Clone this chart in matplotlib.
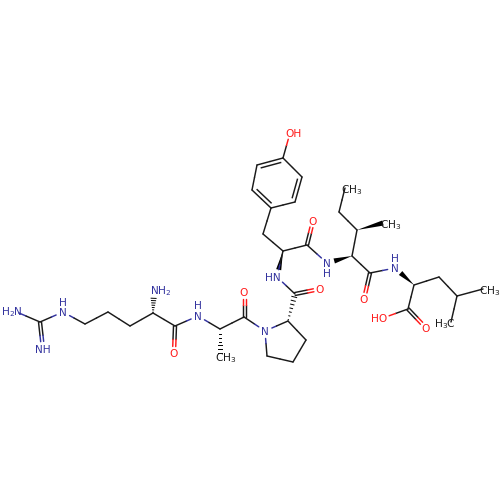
import matplotlib
matplotlib.use("Agg")
import matplotlib.pyplot as plt
import numpy as np
from matplotlib.patches import Polygon

plt.rcParams['font.family'] = ['DejaVu Sans']
NAVY = '#33339f'
RED = '#ff1a1a'
BLACK = '#1a1a1a'

# atoms: name -> (x, y, element)
atoms = {
 'N1': (12, 310, 'N'), 'C1': (40, 322, 'C'), 'N2': (43, 349, 'N'), 'N3': (63, 312, 'N'),
 'C2': (85, 324, 'C'), 'C3': (108, 312, 'C'), 'C4': (130, 326, 'C'), 'C5': (153, 313, 'C'),
 'N4': (154, 289, 'N'), 'C6': (175, 326, 'C'), 'O1': (174, 353, 'O'), 'N5': (198, 316, 'N'),
 'C7': (220, 329, 'C'), 'C8': (220, 356, 'C'), 'C9': (244, 317, 'C'), 'O2': (244, 292, 'O'),
 'N6': (265, 331, 'N'), 'C10': (288, 321, 'C'), 'C11': (306, 340, 'C'), 'C12': (293, 362, 'C'),
 'C13': (267, 356, 'C'), 'C14': (295, 294, 'C'), 'O3': (320, 289, 'O'), 'N7': (277, 277, 'N'),
 'C15': (283, 251, 'C'), 'C16': (263, 234, 'C'), 'C17': (271, 208, 'C'), 'C18': (252, 190, 'C'),
 'C19': (257, 165, 'C'), 'C20': (283, 158, 'C'), 'C21': (302, 177, 'C'), 'C22': (295, 202, 'C'),
 'O4': (290, 133, 'O'), 'C23': (307, 245, 'C'), 'O5': (313, 221, 'O'), 'N8': (327, 263, 'N'),
 'C24': (352, 256, 'C'), 'C25': (357, 230, 'C'), 'C26': (383, 223, 'C'), 'C27': (339, 212, 'C'),
 'C28': (345, 188, 'C'), 'C29': (370, 273, 'C'), 'O6': (364, 299, 'O'), 'N9': (395, 268, 'N'),
 'C30': (414, 285, 'C'), 'C31': (439, 277, 'C'), 'C32': (457, 296, 'C'), 'C33': (483, 289, 'C'),
 'C34': (451, 322, 'C'), 'C35': (408, 309, 'C'), 'O7': (383, 318, 'O'), 'O8': (426, 328, 'O'),
}
single_bonds = [('N1','C1'),('C1','N3'),('N3','C2'),('C2','C3'),('C3','C4'),('C4','C5'),
 ('C5','C6'),('C6','N5'),('N5','C7'),('C7','C9'),('C9','N6'),('N6','C10'),('C10','C11'),
 ('C11','C12'),('C12','C13'),('C13','N6'),('C14','N7'),('N7','C15') ,('C15','C16'),('C16','C17'),
 ('C18','C19'),('C20','C21'),('C22','C17'),('C20','O4'),('C15','C23'),('C23','N8'),
 ('C24','C25'),('C25','C27'),('C27','C28'),('C24','C29'),('C29','N9'),('C30','C31'),
 ('C31','C32'),('C32','C33'),('C32','C34'),('C30','C35'),('C35','O7')]
double_bonds = [('C1','N2',0),('C6','O1',0),('C9','O2',0),('C14','O3',0),('C23','O5',0),
 ('C29','O6',0),('C35','O8',0),('C17','C18',1),('C19','C20',1),('C21','C22',1)]
solid_wedges = [('C15','N7'),('C24','N8'),('C25','C26'),('C30','N9')]
hash_wedges = [('C5','N4'),('C7','C8'),('C10','C14')]
labels = [(12,310,'H$_2$N',NAVY),(43,349,'NH',NAVY),(63,312,'N',NAVY),(63,302,'H',NAVY),
 (161,289,'NH$_2$',NAVY),(174,353,'O',RED),(198,316,'N',NAVY),(198,305,'H',NAVY),
 (226,356,'CH$_3$',BLACK),(244,292,'O',RED),(265,331,'N',NAVY),(320,289,'O',RED),
 (273,277,'HN',NAVY),(293,133,'OH',RED),(313,221,'O',RED),(327,263,'N',NAVY),(327,273,'H',NAVY),
 (391,223,'CH$_3$',BLACK),(352,188,'CH$_3$',BLACK),(364,299,'O',RED),(395,268,'N',NAVY),
 (395,258,'H',NAVY),(490,289,'CH$_3$',BLACK),(445,322,'H$_3$C',BLACK),(379,318,'HO',RED),(426,328,'O',RED)]
col = {'C': BLACK, 'N': NAVY, 'O': RED}
gap = {'C': 0.0, 'N': 7.5, 'O': 6.5}

fig = plt.figure(figsize=(5, 5), dpi=100)
ax = fig.add_axes([0, 0, 1, 1])
ax.set_xlim(0, 500); ax.set_ylim(500, 0); ax.axis('off')

def seg(a, b, off=0.0):
    p, q = np.array(atoms[a][:2], float), np.array(atoms[b][:2], float)
    ea, eb = atoms[a][2], atoms[b][2]
    d = q - p; L = np.hypot(*d); u = d / L; n = np.array([-u[1], u[0]])
    s = p + u * gap[ea] + n * off; e = q - u * gap[eb] + n * off
    m = (p + q) / 2 + n * off
    return s, m, e, col[ea], col[eb], u, n

def bond(a, b, off=0.0, lw=1.05):
    s, m, e, c1, c2, _, _ = seg(a, b, off)
    ax.plot([s[0], m[0]], [s[1], m[1]], color=c1, lw=lw, solid_capstyle='round')
    ax.plot([m[0], e[0]], [m[1], e[1]], color=c2, lw=lw, solid_capstyle='round')

for a, b in single_bonds:
    bond(a, b)
for a, b, ring in double_bonds:
    if ring:
        bond(a, b)
        s, m, e, c1, c2, u, n = seg(a, b)
        cen = np.mean([atoms[k][:2] for k in ('C17','C18','C19','C20','C21','C22')], axis=0)
        sg = 1 if np.dot(cen - m, n) > 0 else -1
        s2 = s + u * 3.5 + n * 3.8 * sg; e2 = e - u * 3.5 + n * 3.8 * sg
        ax.plot([s2[0], e2[0]], [s2[1], e2[1]], color=BLACK, lw=1.05)
    else:
        bond(a, b, 1.5); bond(a, b, -1.5)
for a, b in solid_wedges:
    s, m, e, c1, c2, u, n = seg(a, b)
    ax.add_patch(Polygon([s, e + n * 2.6, e - n * 2.6], closed=True, fc='black', ec='none'))
for a, b in hash_wedges:
    s, m, e, c1, c2, u, n = seg(a, b)
    L = np.hypot(*(e - s))
    for t in np.arange(0.05, 1.0, 0.14):
        c = s + (e - s) * t; w = 2.8 * t
        ax.plot([c[0] - n[0]*w, c[0] + n[0]*w], [c[1] - n[1]*w, c[1] + n[1]*w], color='black', lw=0.7)
for x, y, t, c in labels:
    ax.text(x, y, t, color=c, fontsize=7.6, ha='center', va='center_baseline')
fig.savefig('out.png', dpi=100)
